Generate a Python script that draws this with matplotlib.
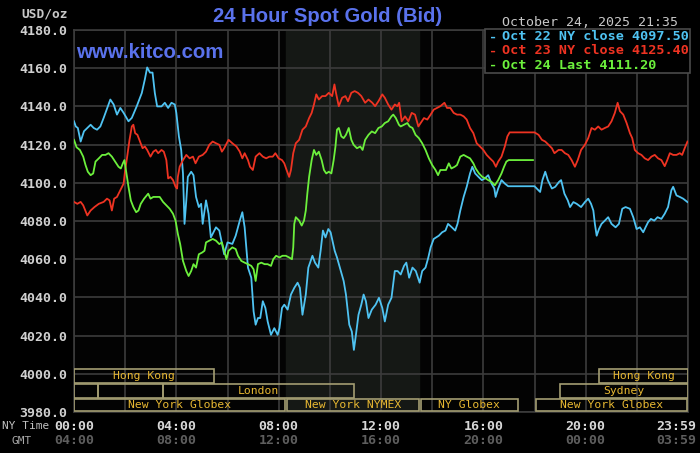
import matplotlib
matplotlib.use("Agg")
import matplotlib.pyplot as plt
from matplotlib.patches import Rectangle
from matplotlib import transforms

# ---- data (hour of NY day, price) ----
oct22 = [(0.00, 4132.2), (0.07, 4129.5), (0.15, 4128.7), (0.26, 4121.6), (0.39, 4127.0), (0.65, 4130.4),
         (0.77, 4128.7), (0.90, 4127.8), (1.03, 4129.5), (1.16, 4134.0), (1.42, 4143.6), (1.55, 4141.0),
         (1.68, 4135.7), (1.81, 4139.2), (1.94, 4136.6), (2.13, 4132.2), (2.26, 4134.0), (2.45, 4140.0),
         (2.65, 4147.0), (2.77, 4154.2), (2.86, 4160.4), (2.97, 4157.7), (3.07, 4157.7), (3.16, 4147.0),
         (3.25, 4140.0), (3.42, 4140.0), (3.55, 4141.9), (3.68, 4139.2), (3.81, 4141.9), (3.94, 4141.0),
         (4.00, 4136.6), (4.10, 4124.3), (4.19, 4117.2), (4.26, 4104.9), (4.32, 4078.5), (4.39, 4090.8),
         (4.45, 4103.1), (4.58, 4105.8), (4.67, 4104.0), (4.77, 4092.6), (4.88, 4087.3), (4.97, 4089.0),
         (5.03, 4078.5), (5.16, 4090.8), (5.26, 4083.8), (5.35, 4071.4), (5.55, 4076.7), (5.68, 4075.0),
         (5.87, 4062.6), (6.00, 4068.8), (6.19, 4068.0), (6.32, 4072.3), (6.48, 4080.2), (6.58, 4084.6),
         (6.67, 4076.7), (6.80, 4055.6), (6.93, 4050.3), (7.02, 4032.7), (7.10, 4025.7), (7.19, 4029.2),
         (7.28, 4029.2), (7.38, 4038.0), (7.48, 4034.5), (7.57, 4027.4), (7.70, 4020.4), (7.83, 4023.9),
         (7.96, 4020.4), (8.03, 4023.9), (8.13, 4034.5), (8.22, 4036.2), (8.35, 4033.6), (8.48, 4041.5),
         (8.61, 4045.0), (8.74, 4047.7), (8.83, 4045.0), (8.93, 4030.9), (9.06, 4041.5), (9.16, 4055.6),
         (9.32, 4061.8), (9.42, 4058.2), (9.55, 4055.6), (9.64, 4064.4), (9.73, 4075.0), (9.83, 4071.4),
         (9.94, 4075.8), (10.03, 4074.1), (10.19, 4064.4), (10.28, 4060.9), (10.41, 4054.7), (10.54, 4048.6),
         (10.63, 4041.5), (10.76, 4025.7), (10.86, 4022.1), (10.94, 4012.5), (11.02, 4020.4), (11.12, 4030.9),
         (11.23, 4036.2), (11.32, 4041.5), (11.41, 4038.0), (11.51, 4029.2), (11.64, 4033.6), (11.79, 4036.2),
         (11.92, 4039.8), (12.05, 4034.5), (12.15, 4027.4), (12.28, 4036.2), (12.41, 4039.8), (12.54, 4053.8),
         (12.65, 4053.8), (12.77, 4052.0), (12.90, 4056.5), (12.99, 4058.2), (13.10, 4050.3), (13.23, 4055.6),
         (13.36, 4053.8), (13.51, 4047.7), (13.61, 4053.8), (13.74, 4055.6), (13.85, 4060.9), (13.94, 4066.2),
         (14.06, 4070.6), (14.26, 4072.3), (14.39, 4074.1), (14.52, 4075.0), (14.62, 4078.5), (14.77, 4076.7),
         (14.90, 4075.0), (14.99, 4078.5), (15.10, 4085.5), (15.23, 4092.6), (15.35, 4097.9), (15.48, 4104.9),
         (15.57, 4108.4), (15.68, 4104.9), (15.81, 4103.1), (15.94, 4101.4), (16.06, 4102.3), (16.19, 4104.0),
         (16.32, 4099.6), (16.43, 4097.0), (16.48, 4092.6), (16.58, 4097.0), (16.71, 4101.4), (16.84, 4099.6),
         (16.97, 4098.2), (18.00, 4098.2), (18.22, 4095.2), (18.31, 4101.4), (18.42, 4105.8), (18.52, 4101.4),
         (18.68, 4097.0), (18.81, 4097.9), (18.96, 4100.5), (19.04, 4101.4), (19.17, 4094.3), (19.30, 4090.8),
         (19.39, 4087.3), (19.52, 4089.9), (19.65, 4089.0), (19.82, 4087.3), (19.97, 4089.9), (20.10, 4091.7),
         (20.21, 4089.0), (20.30, 4085.5), (20.36, 4078.5), (20.43, 4072.3), (20.52, 4075.8), (20.62, 4078.5),
         (20.75, 4080.2), (20.88, 4082.0), (21.01, 4078.5), (21.17, 4076.7), (21.30, 4078.5), (21.43, 4086.4),
         (21.56, 4087.3), (21.73, 4086.4), (21.86, 4082.0), (21.99, 4075.8), (22.12, 4076.7), (22.25, 4074.1),
         (22.34, 4076.7), (22.44, 4079.4), (22.55, 4081.1), (22.68, 4080.2), (22.81, 4082.0), (22.96, 4081.1),
         (23.09, 4083.8), (23.22, 4087.3), (23.35, 4096.1), (23.42, 4097.9), (23.55, 4093.4), (23.68, 4092.6),
         (23.81, 4091.7), (23.98, 4089.9)]

oct23 = [(0.00, 4090.0), (0.13, 4089.0), (0.26, 4090.0), (0.36, 4088.2), (0.52, 4082.9), (0.65, 4085.5),
         (0.80, 4087.3), (0.97, 4089.0), (1.16, 4090.0), (1.29, 4091.7), (1.39, 4090.8), (1.48, 4085.5),
         (1.57, 4091.7), (1.68, 4092.6), (1.81, 4096.1), (1.94, 4099.6), (2.00, 4106.7), (2.06, 4111.9),
         (2.17, 4122.5), (2.26, 4129.5), (2.32, 4130.4), (2.39, 4126.0), (2.48, 4125.1), (2.58, 4121.6),
         (2.68, 4118.1), (2.77, 4119.0), (2.86, 4117.2), (2.99, 4113.7), (3.10, 4116.3), (3.20, 4117.2),
         (3.29, 4115.5), (3.42, 4117.2), (3.51, 4116.3), (3.61, 4111.9), (3.68, 4102.3), (3.77, 4103.1),
         (3.87, 4101.4), (3.97, 4097.9), (4.03, 4097.0), (4.06, 4103.1), (4.13, 4108.4), (4.26, 4111.9),
         (4.39, 4114.6), (4.52, 4112.8), (4.65, 4113.7), (4.75, 4110.2), (4.88, 4113.7), (5.03, 4114.6),
         (5.16, 4116.3), (5.29, 4119.9), (5.42, 4121.6), (5.55, 4120.7), (5.68, 4119.9), (5.78, 4116.3),
         (5.87, 4118.1), (6.04, 4122.5), (6.19, 4120.7), (6.35, 4119.0), (6.48, 4116.3), (6.58, 4112.8),
         (6.67, 4115.5), (6.80, 4111.9), (6.88, 4108.4), (6.99, 4106.7), (7.10, 4113.7), (7.25, 4115.5),
         (7.38, 4113.7), (7.51, 4112.8), (7.64, 4113.7), (7.77, 4113.7), (7.87, 4115.5), (8.00, 4112.8),
         (8.13, 4111.9), (8.22, 4110.2), (8.31, 4106.7), (8.41, 4103.1), (8.48, 4106.7), (8.57, 4115.5),
         (8.67, 4120.7), (8.80, 4122.5), (8.93, 4127.8), (9.06, 4129.5), (9.19, 4133.9), (9.29, 4136.6),
         (9.38, 4141.0), (9.47, 4146.3), (9.57, 4143.6), (9.70, 4145.4), (9.83, 4145.4), (9.96, 4147.1),
         (10.09, 4145.4), (10.18, 4151.5), (10.24, 4147.1), (10.35, 4140.1), (10.48, 4144.5), (10.61, 4145.4),
         (10.71, 4142.7), (10.84, 4147.1), (10.97, 4148.0), (11.10, 4147.1), (11.23, 4145.4), (11.38, 4141.9),
         (11.51, 4143.6), (11.66, 4141.9), (11.77, 4140.1), (11.90, 4142.7), (12.05, 4146.3), (12.15, 4144.5),
         (12.28, 4141.0), (12.41, 4138.3), (12.54, 4141.0), (12.64, 4140.1), (12.71, 4141.9), (12.81, 4132.2),
         (12.94, 4134.8), (13.07, 4132.2), (13.20, 4136.6), (13.33, 4135.7), (13.46, 4129.5), (13.55, 4131.3),
         (13.68, 4133.9), (13.81, 4133.1), (13.94, 4135.7), (14.06, 4138.3), (14.19, 4139.2), (14.32, 4140.1),
         (14.48, 4141.9), (14.58, 4139.2), (14.71, 4139.2), (14.84, 4136.6), (14.97, 4135.7), (15.10, 4135.7),
         (15.23, 4134.8), (15.35, 4133.1), (15.48, 4128.7), (15.61, 4126.0), (15.74, 4120.7), (15.87, 4119.0),
         (16.00, 4117.2), (16.13, 4114.6), (16.26, 4112.8), (16.39, 4111.1), (16.49, 4108.4), (16.58, 4111.1),
         (16.71, 4113.7), (16.84, 4119.0), (16.94, 4124.3), (17.03, 4126.4), (18.00, 4126.4), (18.16, 4125.1),
         (18.29, 4122.5), (18.42, 4121.6), (18.55, 4119.9), (18.68, 4118.1), (18.78, 4115.5), (18.94, 4117.2),
         (19.06, 4117.2), (19.19, 4115.5), (19.32, 4114.6), (19.45, 4111.9), (19.58, 4108.4), (19.69, 4111.9),
         (19.82, 4117.2), (19.97, 4119.9), (20.10, 4123.4), (20.23, 4128.7), (20.36, 4127.8), (20.49, 4129.5),
         (20.62, 4127.8), (20.75, 4128.7), (20.88, 4129.5), (21.01, 4132.2), (21.14, 4136.6), (21.25, 4141.9),
         (21.34, 4137.5), (21.47, 4135.7), (21.60, 4131.3), (21.73, 4126.0), (21.82, 4123.4), (21.92, 4117.2),
         (22.05, 4115.5), (22.18, 4114.6), (22.31, 4112.8), (22.44, 4111.9), (22.57, 4113.7), (22.70, 4114.6),
         (22.83, 4112.8), (22.96, 4111.9), (23.09, 4108.7), (23.19, 4111.9), (23.29, 4115.5), (23.42, 4114.6),
         (23.55, 4114.6), (23.68, 4115.5), (23.77, 4114.6), (23.87, 4118.1), (23.98, 4121.6)]

oct24 = [(0.00, 4122.5), (0.10, 4118.6), (0.23, 4117.2), (0.36, 4113.7), (0.45, 4109.3), (0.54, 4105.8),
         (0.65, 4104.0), (0.75, 4104.9), (0.84, 4111.1), (0.97, 4112.8), (1.10, 4114.6), (1.23, 4114.6),
         (1.35, 4115.5), (1.48, 4113.7), (1.61, 4111.1), (1.74, 4108.4), (1.83, 4107.5), (1.91, 4110.2),
         (1.97, 4111.9), (2.04, 4105.8), (2.13, 4097.9), (2.22, 4090.8), (2.32, 4087.3), (2.43, 4084.6),
         (2.52, 4085.5), (2.61, 4089.0), (2.74, 4091.7), (2.90, 4094.3), (2.99, 4091.7), (3.10, 4092.6),
         (3.23, 4092.6), (3.35, 4092.6), (3.48, 4090.0), (3.61, 4088.2), (3.74, 4086.4), (3.87, 4083.8),
         (3.97, 4080.2), (4.06, 4073.2), (4.15, 4067.9), (4.26, 4059.1), (4.39, 4053.8), (4.48, 4051.2),
         (4.58, 4053.8), (4.67, 4057.4), (4.77, 4055.6), (4.88, 4062.6), (5.01, 4063.5), (5.10, 4064.4),
         (5.16, 4068.8), (5.29, 4069.7), (5.42, 4070.6), (5.55, 4069.7), (5.68, 4067.9), (5.78, 4068.8),
         (5.87, 4064.4), (5.96, 4060.0), (6.04, 4064.4), (6.19, 4066.2), (6.32, 4065.3), (6.41, 4061.8),
         (6.54, 4059.1), (6.67, 4058.2), (6.80, 4057.4), (6.93, 4056.5), (7.02, 4054.7), (7.10, 4048.6),
         (7.19, 4057.4), (7.32, 4058.2), (7.45, 4057.4), (7.57, 4057.4), (7.70, 4056.5), (7.79, 4060.0),
         (7.90, 4061.8), (8.03, 4060.9), (8.15, 4061.8), (8.28, 4061.8), (8.41, 4060.9), (8.52, 4060.0),
         (8.57, 4066.2), (8.61, 4078.5), (8.67, 4082.0), (8.80, 4080.2), (8.90, 4077.6), (8.99, 4080.2),
         (9.06, 4085.5), (9.12, 4094.3), (9.19, 4103.1), (9.29, 4111.9), (9.38, 4117.2), (9.47, 4114.6),
         (9.57, 4116.3), (9.68, 4111.9), (9.77, 4106.7), (9.86, 4104.9), (9.96, 4105.8), (10.06, 4104.9),
         (10.15, 4111.9), (10.22, 4119.0), (10.28, 4127.8), (10.35, 4128.7), (10.45, 4124.3), (10.54, 4123.4),
         (10.63, 4125.1), (10.74, 4128.7), (10.84, 4122.5), (10.93, 4119.9), (11.06, 4118.1), (11.19, 4119.0),
         (11.28, 4117.2), (11.38, 4122.5), (11.51, 4125.1), (11.64, 4126.9), (11.77, 4126.0), (11.90, 4128.7),
         (12.03, 4129.5), (12.15, 4131.3), (12.28, 4132.2), (12.41, 4134.8), (12.48, 4135.7), (12.58, 4133.9),
         (12.70, 4130.4), (12.77, 4129.5), (12.90, 4130.4), (13.03, 4131.3), (13.12, 4129.5), (13.23, 4128.7),
         (13.35, 4125.1), (13.48, 4123.4), (13.61, 4120.7), (13.74, 4117.2), (13.87, 4112.8), (14.00, 4109.3),
         (14.13, 4106.7), (14.23, 4104.0), (14.32, 4106.7), (14.45, 4106.7), (14.54, 4106.7), (14.65, 4110.2),
         (14.75, 4107.5), (14.88, 4108.4), (14.97, 4109.3), (15.10, 4113.7), (15.23, 4114.6), (15.35, 4113.7),
         (15.48, 4112.8), (15.61, 4110.2), (15.70, 4107.5), (15.83, 4104.9), (15.96, 4103.1), (16.09, 4102.3),
         (16.19, 4101.4), (16.32, 4100.5), (16.45, 4098.7), (16.58, 4101.4), (16.71, 4104.9), (16.81, 4108.4),
         (16.90, 4111.1), (16.99, 4111.9), (17.94, 4111.9)]

series_colors = ['#4fc3f2', '#ee3322', '#6cf03c']
legend_labels = ['Oct 22 NY close 4097.50', 'Oct 23 NY close 4125.40', 'Oct 24 Last 4111.20']

ny_ticks = [0, 4, 8, 12, 16, 20, 24]
ny_labels = ['00:00', '04:00', '08:00', '12:00', '16:00', '20:00', '23:59']
gmt_labels = ['04:00', '08:00', '12:00', '16:00', '20:00', '00:00', '03:59']

# market sessions: (row, start hour, end hour, label); row 0 = top
sessions = [(0, 0.0, 5.48, 'Hong Kong'), (0, 20.52, 24.0, 'Hong Kong'),
            (1, 0.0, 0.94, ''), (1, 0.94, 3.49, ''), (1, 3.49, 10.96, 'London'),
            (1, 19.0, 24.0, 'Sydney'),
            (2, 0.0, 8.25, 'New York Globex'), (2, 8.31, 13.49, 'New York NYMEX'),
            (2, 13.55, 17.35, 'NY Globex'), (2, 18.06, 23.98, 'New York Globex')]
comex_open = (8.3, 13.5)

W, H = 700, 453
def fx(p):
    return p / W
def fy(p):
    return 1 - p / H

mono = 'DejaVu Sans Mono'
fig = plt.figure(figsize=(7, 4.53), dpi=100, facecolor='black')
ax = fig.add_axes([fx(74), fy(412), (688 - 74) / W, (412 - 30) / H])
ax.set_facecolor('#030303')
ax.set_xlim(0, 24)
ax.set_ylim(3980, 4180)

ax.axvspan(*comex_open, color='#151815', zorder=0)

for h in range(0, 25, 2):
    ax.axvline(h, color='#3c3c3c', lw=1.2, zorder=1)
for v in range(3980, 4181, 20):
    ax.axhline(v, color='#3c3c3c', lw=1.2, zorder=1)
for s in ax.spines.values():
    s.set_color('#3c3c3c')
    s.set_linewidth(1.2)

for data, c in zip([oct22, oct23, oct24], series_colors):
    t = [p[0] for p in data]
    v = [p[1] for p in data]
    ax.plot(t, v, color=c, lw=1.3, zorder=3)

# market session boxes
row_y = [(3995.0, 4002.3), (3987.4, 3994.5), (3980.3, 3986.9)]
for row, t0, t1, lab in sessions:
    y0, y1 = row_y[row]
    ax.add_patch(Rectangle((t0, y0), t1 - t0, y1 - y0, fill=False,
                           edgecolor='#a39d72', lw=1.2, zorder=4))
    if lab:
        ax.text((t0 + t1) / 2, (y0 + y1) / 2, lab, color='#e8b832', fontsize=8.2,
                family=mono, ha='center', va='center', zorder=5)

ax.set_yticks(range(3980, 4181, 20))
ax.set_yticklabels([f'{v:.1f}' for v in range(3980, 4181, 20)],
                   family=mono, fontweight='bold', fontsize=9.5, color='#d0d0d0')
ax.tick_params(axis='y', length=0, pad=5)
ax.set_xticks([])

# time labels below the plot
tr = transforms.blended_transform_factory(ax.transData, fig.transFigure)
for h, a, b in zip(ny_ticks, ny_labels, gmt_labels):
    trh = tr
    if h == 24:
        trh = transforms.offset_copy(tr, fig, x=-12, units='dots')
    ax.text(h, fy(426), a, transform=trh, ha='center', va='center', family=mono,
            fontweight='bold', fontsize=9.5, color='#d8d8d8')
    ax.text(h, fy(441), b, transform=trh, ha='center', va='center', family=mono,
            fontweight='bold', fontsize=9.5, color='#5e5e5e')
fig.text(fx(2), fy(426), 'NY Time', family=mono, fontsize=8, color='#c0c0c0', va='center')
fig.text(fx(12), fy(441), 'GMT', family=mono, fontsize=8, color='#a8a8a8', va='center')

# header texts
fig.text(fx(68), fy(14), 'USD/oz', family=mono, fontweight='bold', fontsize=9.3,
         color='#c8c8c8', ha='right', va='center')
fig.text(fx(328), fy(16), '24 Hour Spot Gold (Bid)', family='Liberation Sans',
         fontweight='bold', fontsize=14.6, color='#5a72ec', ha='center', va='center')
fig.text(fx(76), fy(53), 'www.kitco.com', family='Liberation Sans', fontweight='bold',
         fontsize=14.7, color='#5a72ec', ha='left', va='center')
fig.text(fx(678), fy(22), 'October 24, 2025 21:35', family=mono, fontsize=9.5,
         color='#c8c8c8', ha='right', va='center')

# legend box
fig.add_artist(Rectangle((fx(485), fy(73)), (690 - 485) / W, (73 - 29) / H,
                         transform=fig.transFigure, facecolor='black',
                         edgecolor='#4a4a4a', lw=1.2, zorder=5))
for i, (lab, c) in enumerate(zip(legend_labels, series_colors)):
    yy = fy(37 + 14 * i)
    fig.text(fx(489), yy, '-', family=mono, fontweight='bold', fontsize=9.7, color=c,
             va='center', zorder=6)
    fig.text(fx(502), yy, lab, family=mono, fontweight='bold', fontsize=9.7, color=c,
             va='center', zorder=6)

fig.savefig('out.png', dpi=100, facecolor='black')
